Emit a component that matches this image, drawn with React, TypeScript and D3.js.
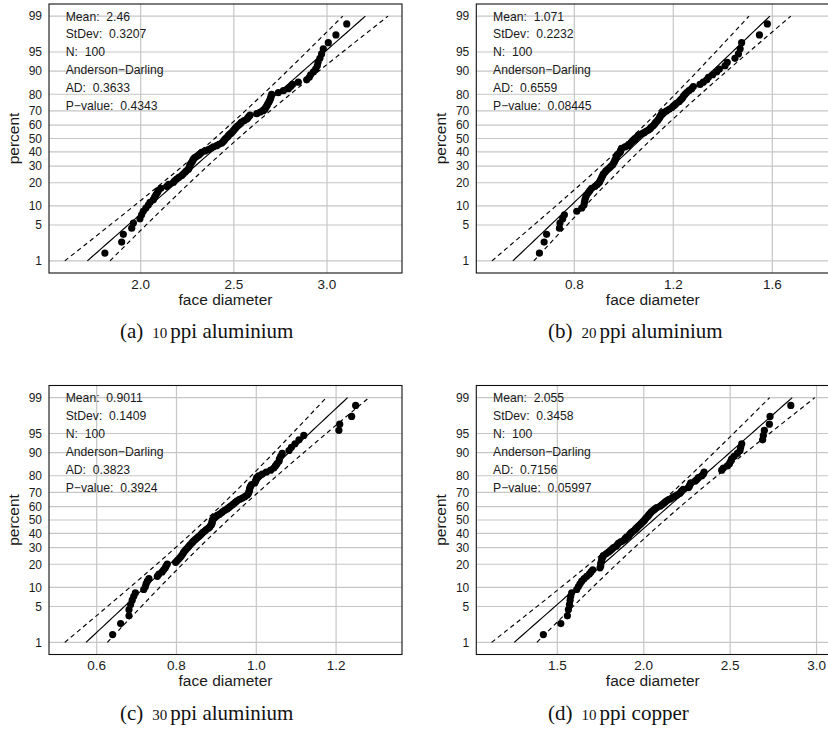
import React from "react";
import * as d3 from "d3";

// ---------- data ----------
const panelLetters = ["a", "b", "c", "d"];
const captionNumbers = ["10", "20", "30", "10"];
const captionTexts = ["ppi aluminium", "ppi aluminium", "ppi aluminium", "ppi copper"];
const means = [2.46, 1.071, 0.9011, 2.055];
const stdevs = [0.3207, 0.2232, 0.1409, 0.3458];
const meanLabels = ["2.46", "1.071", "0.9011", "2.055"];
const stdevLabels = ["0.3207", "0.2232", "0.1409", "0.3458"];
const nLabels = ["100", "100", "100", "100"];
const adLabels = ["0.3633", "0.6559", "0.3823", "0.7156"];
const pLabels = ["0.4343", "0.08445", "0.3924", "0.05997"];
const xTicks = [
  [2.0, 2.5, 3.0],
  [0.8, 1.2, 1.6],
  [0.6, 0.8, 1.0, 1.2],
  [1.5, 2.0, 2.5, 3.0],
];
const xDomains = [
  [1.508, 3.4026],
  [0.404, 1.8303],
  [0.4805, 1.3652],
  [1.031, 3.0738],
];
const percentTicks = [1, 5, 10, 20, 30, 40, 50, 60, 70, 80, 90, 95, 99];

const diam10Al = [
  1.808, 1.898, 1.907, 1.952, 1.961, 1.996, 2.005, 2.014, 2.028, 2.041,
  2.050, 2.068, 2.075, 2.082, 2.090, 2.095, 2.108, 2.140, 2.150, 2.175,
  2.182, 2.193, 2.205, 2.220, 2.228, 2.238, 2.245, 2.256, 2.260, 2.263,
  2.265, 2.270, 2.276, 2.280, 2.283, 2.290, 2.301, 2.312, 2.320, 2.327,
  2.345, 2.363, 2.378, 2.390, 2.408, 2.420, 2.435, 2.442, 2.448, 2.453,
  2.460, 2.468, 2.471, 2.480, 2.488, 2.495, 2.500, 2.506, 2.512, 2.519,
  2.528, 2.536, 2.542, 2.555, 2.569, 2.575, 2.580, 2.587, 2.623, 2.640,
  2.658, 2.667, 2.670, 2.676, 2.680, 2.685, 2.690, 2.694, 2.698, 2.700,
  2.703, 2.739, 2.766, 2.793, 2.805, 2.815, 2.846, 2.891, 2.905, 2.912,
  2.927, 2.939, 2.948, 2.952, 2.962, 2.971, 2.980, 3.007, 3.048, 3.106,
];
const diam20Al = [
  0.659, 0.678, 0.688, 0.740, 0.742, 0.753, 0.760, 0.810, 0.830, 0.839,
  0.841, 0.843, 0.846, 0.850, 0.857, 0.863, 0.870, 0.884, 0.893, 0.901,
  0.904, 0.908, 0.911, 0.915, 0.917, 0.924, 0.928, 0.935, 0.942, 0.948,
  0.955, 0.958, 0.962, 0.964, 0.967, 0.969, 0.971, 0.974, 0.979, 0.985,
  0.987, 0.989, 0.991, 1.005, 1.018, 1.022, 1.028, 1.032, 1.039, 1.045,
  1.049, 1.055, 1.059, 1.072, 1.082, 1.090, 1.099, 1.106, 1.110, 1.117,
  1.122, 1.126, 1.130, 1.136, 1.140, 1.144, 1.146, 1.150, 1.153, 1.160,
  1.173, 1.183, 1.193, 1.200, 1.207, 1.214, 1.224, 1.230, 1.237, 1.241,
  1.247, 1.254, 1.263, 1.274, 1.281, 1.308, 1.321, 1.335, 1.342, 1.359,
  1.375, 1.386, 1.409, 1.418, 1.449, 1.463, 1.470, 1.476, 1.548, 1.580,
];
const diam30Al = [
  0.640, 0.660, 0.681, 0.681, 0.685, 0.689, 0.693, 0.697, 0.718, 0.722,
  0.724, 0.727, 0.731, 0.752, 0.756, 0.764, 0.768, 0.772, 0.774, 0.777,
  0.798, 0.802, 0.806, 0.810, 0.813, 0.816, 0.818, 0.821, 0.824, 0.828,
  0.831, 0.834, 0.838, 0.841, 0.844, 0.848, 0.852, 0.856, 0.860, 0.863,
  0.866, 0.871, 0.874, 0.879, 0.883, 0.885, 0.888, 0.889, 0.889, 0.890,
  0.891, 0.894, 0.896, 0.902, 0.908, 0.913, 0.916, 0.921, 0.927, 0.931,
  0.935, 0.940, 0.944, 0.948, 0.952, 0.958, 0.965, 0.971, 0.977, 0.980,
  0.981, 0.983, 0.983, 0.984, 0.986, 0.988, 0.996, 0.998, 1.000, 1.001,
  1.006, 1.015, 1.025, 1.036, 1.044, 1.048, 1.052, 1.057, 1.058, 1.061,
  1.065, 1.082, 1.088, 1.097, 1.107, 1.119, 1.207, 1.209, 1.239, 1.249,
];
const diam10Cu = [
  1.419, 1.520, 1.558, 1.564, 1.570, 1.574, 1.577, 1.583, 1.612, 1.622,
  1.631, 1.641, 1.655, 1.670, 1.685, 1.695, 1.705, 1.747, 1.751, 1.751,
  1.753, 1.757, 1.757, 1.763, 1.766, 1.782, 1.795, 1.805, 1.815, 1.824,
  1.840, 1.847, 1.853, 1.867, 1.882, 1.892, 1.901, 1.911, 1.917, 1.921,
  1.930, 1.940, 1.950, 1.955, 1.963, 1.971, 1.979, 1.986, 1.994, 2.002,
  2.008, 2.013, 2.021, 2.027, 2.033, 2.040, 2.046, 2.056, 2.065, 2.075,
  2.094, 2.104, 2.114, 2.123, 2.133, 2.148, 2.162, 2.175, 2.191, 2.206,
  2.214, 2.220, 2.229, 2.258, 2.264, 2.268, 2.272, 2.297, 2.307, 2.316,
  2.335, 2.345, 2.349, 2.451, 2.461, 2.484, 2.496, 2.503, 2.509, 2.523,
  2.542, 2.557, 2.561, 2.567, 2.688, 2.692, 2.698, 2.727, 2.731, 2.851,
];
const datasets = [diam10Al, diam20Al, diam30Al, diam10Cu];

// ---------- helpers ----------
function qnorm(p: number): number {
  const a = [-39.69683028665376, 220.9460984245205, -275.9285104469687, 138.357751867269, -30.66479806614716, 2.506628277459239];
  const b = [-54.47609879822406, 161.5858368580409, -155.6989798598866, 66.80131188771972, -13.28068155288572];
  const c = [-0.007784894002430293, -0.3223964580411365, -2.400758277161838, -2.549732539343734, 4.374664141464968, 2.938163982698783];
  const d = [0.007784695709041462, 0.3224671290700398, 2.445134137142996, 3.754408661907416];
  const pl = 0.02425;
  let q: number, r: number;
  if (p < pl) {
    q = Math.sqrt(-2 * Math.log(p));
    return (((((c[0] * q + c[1]) * q + c[2]) * q + c[3]) * q + c[4]) * q + c[5]) / ((((d[0] * q + d[1]) * q + d[2]) * q + d[3]) * q + 1);
  } else if (p <= 1 - pl) {
    q = p - 0.5;
    r = q * q;
    return ((((((a[0] * r + a[1]) * r + a[2]) * r + a[3]) * r + a[4]) * r + a[5]) * q) / (((((b[0] * r + b[1]) * r + b[2]) * r + b[3]) * r + b[4]) * r + 1);
  } else {
    q = Math.sqrt(-2 * Math.log(1 - p));
    return -(((((c[0] * q + c[1]) * q + c[2]) * q + c[3]) * q + c[4]) * q + c[5]) / ((((d[0] * q + d[1]) * q + d[2]) * q + d[3]) * q + 1);
  }
}

const W = 353;
const H = 269;
const lefts = [49, 476.3, 49, 476.3];
const tops = [4, 4, 385.5, 385.5];
const Z_LIM = 2.557;
const SANS = "'Liberation Sans', Arial, Helvetica, sans-serif";
const SERIF = "'Liberation Serif', 'Times New Roman', serif";

function Panel({ k }: { k: number }) {
  const L = lefts[k];
  const T = tops[k];
  const x = d3.scaleLinear().domain(xDomains[k]).range([L, L + W]);
  const y = d3.scaleLinear().domain([-Z_LIM, Z_LIM]).range([T + H, T]);
  const data = datasets[k].slice().sort((p, q) => p - q);
  const n = data.length;
  const mu = means[k];
  const sd = stdevs[k];
  const zLo = qnorm(0.01);
  const zHi = qnorm(0.99);
  const zs = d3.range(0, 61).map((i) => zLo + ((zHi - zLo) * i) / 60);
  const half = (z: number) => 1.96 * sd * Math.sqrt(1 / n + (z * z) / (2 * (n - 1)));
  const lineGen = d3.line<[number, number]>().x((d) => x(d[0])).y((d) => y(d[1]));
  const fitPath = lineGen(zs.map((z) => [mu + sd * z, z]));
  const loPath = lineGen(zs.map((z) => [mu + sd * z - half(z), z]));
  const hiPath = lineGen(zs.map((z) => [mu + sd * z + half(z), z]));
  const statLines = [
    `Mean:  ${meanLabels[k]}`,
    `StDev:  ${stdevLabels[k]}`,
    `N:  ${nLabels[k]}`,
    "Anderson\u2212Darling",
    `AD:  ${adLabels[k]}`,
    `P\u2212value:  ${pLabels[k]}`,
  ];
  const fmt = d3.format(".1f");
  const y99 = y(qnorm(0.99));
  const clipId = `clip-${k}`;
  return (
    <g>
      <defs>
        <clipPath id={clipId}>
          <rect x={L} y={T} width={W} height={H} />
        </clipPath>
      </defs>
      <g clipPath={`url(#${clipId})`}>
        {percentTicks.map((p) => (
          <line key={"h" + p} x1={L} x2={L + W} y1={y(qnorm(p / 100))} y2={y(qnorm(p / 100))} stroke="#c6c6c6" strokeWidth={1.2} />
        ))}
        {xTicks[k].map((t) => (
          <line key={"v" + t} x1={x(t)} x2={x(t)} y1={T} y2={T + H} stroke="#c6c6c6" strokeWidth={1.2} />
        ))}
        {statLines.map((s, i) => (
          <text key={"s" + i} x={L + 16.7} y={y99 + i * 17.9} dy="0.36em" fontFamily={SANS} fontSize={12.2} fill="#1a1a1a" style={{ whiteSpace: "pre" }}>
            {s}
          </text>
        ))}
        <path d={fitPath || ""} fill="none" stroke="#000" strokeWidth={1.15} />
        <path d={loPath || ""} fill="none" stroke="#000" strokeWidth={1.15} strokeDasharray="4.5,3.5" />
        <path d={hiPath || ""} fill="none" stroke="#000" strokeWidth={1.15} strokeDasharray="4.5,3.5" />
        {data.map((v, i) => (
          <circle key={"c" + i} cx={x(v)} cy={y(qnorm((i + 1.5) / (n + 2)))} r={3.6} fill="#000" />
        ))}
      </g>
      <rect x={L} y={T} width={W} height={H} fill="none" stroke="#111" strokeWidth={1.1} />
      {percentTicks.map((p) => (
        <text key={"yl" + p} x={L - 7} y={y(qnorm(p / 100))} dy="0.36em" textAnchor="end" fontFamily={SANS} fontSize={12} fill="#1a1a1a">
          {p}
        </text>
      ))}
      {xTicks[k].map((t) => (
        <text key={"xl" + t} x={x(t)} y={T + H + 15.5} textAnchor="middle" fontFamily={SANS} fontSize={13.5} fill="#1a1a1a">
          {fmt(t)}
        </text>
      ))}
      <text x={L + W / 2} y={T + H + 31.5} textAnchor="middle" fontFamily={SANS} fontSize={15.5} fill="#1a1a1a">
        face diameter
      </text>
      <text transform={`translate(${L - 30},${T + H / 2}) rotate(-90)`} textAnchor="middle" fontFamily={SANS} fontSize={15.5} fill="#1a1a1a">
        percent
      </text>
      <text x={k % 2 === 0 ? 120 : 548} y={T + 334} fontFamily={SERIF} fontSize={21} fill="#111">
        ({panelLetters[k]})
        <tspan dx={9} fontSize={15}>{captionNumbers[k]}</tspan>
        <tspan dx={3}>{captionTexts[k]}</tspan>
      </text>
    </g>
  );
}

export default function App() {
  return (
    <svg width={828} height={731} style={{ position: "absolute", left: 0, top: 0, background: "#fff" }}>
      <rect x={0} y={0} width={828} height={731} fill="#fff" />
      {[0, 1, 2, 3].map((k) => (
        <Panel key={k} k={k} />
      ))}
    </svg>
  );
}
